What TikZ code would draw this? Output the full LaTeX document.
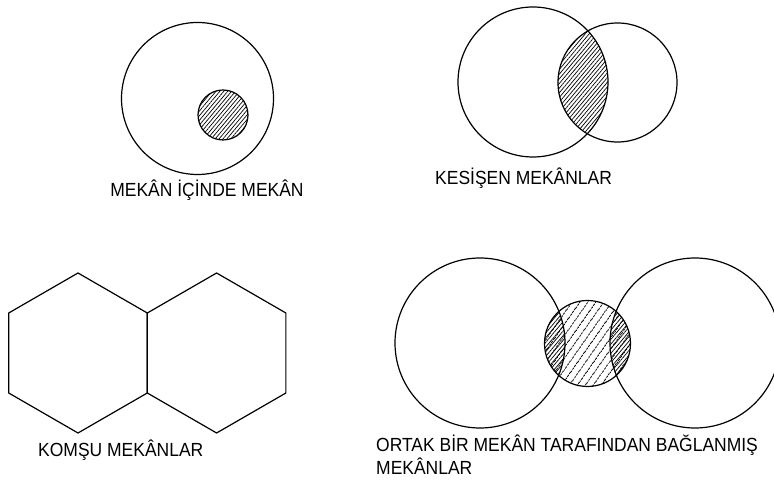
\documentclass[tikz,border=0pt]{standalone}
\usepackage{fontspec}
\setmainfont{Liberation Sans}[FakeStretch=0.92]
\usetikzlibrary{patterns.meta}

\tikzset{
  wall/.style={line width=1.2pt},
  dense/.style={pattern={Lines[angle=50,distance=3pt,line width=0.7pt]}},
  sparse/.style={pattern={Lines[angle=55,distance=6.5pt,line width=0.9pt]}},
  caption/.style={font=\fontsize{19}{23}\selectfont, inner sep=0pt, anchor=base west, align=left}
}

\begin{document}
\begin{tikzpicture}[x=1pt,y=1pt]
    \useasboundingbox (0,0) rectangle (774,484);

    % Space within a space
    \coordinate (outerA) at (197.5,385.5);
    \coordinate (innerA) at (223,369);
    \fill[dense] (innerA) circle (25pt);
    \draw[wall] (outerA) circle (76pt);
    \draw[wall] (innerA) circle (25pt);
    \node[caption, anchor=base] (capA) at (207,287) {MEKÂN İÇİNDE MEKÂN};

    % Intersecting spaces
    \coordinate (bigB) at (533,402);
    \coordinate (smallB) at (617.5,401.5);
    \begin{scope}
        \clip (bigB) circle (75pt);
        \fill[dense] (smallB) circle (59.5pt);
    \end{scope}
    \draw[wall] (bigB) circle (75pt);
    \draw[wall] (smallB) circle (59.5pt);
    \node[caption] (capB) at (435,299) {KESİŞEN MEKÂNLAR};

    % Adjacent spaces
    \coordinate (hexL) at (78,131);
    \coordinate (hexR) at (216.6,131);
    \foreach \c in {hexL,hexR}
        \draw[wall] (\c) ++(90:80pt) -- ++(210:80pt) -- ++(270:80pt)
            -- ++(330:80pt) -- ++(30:80pt) -- ++(90:80pt) -- cycle;
    \node[caption] (capC) at (38,27) {KOMŞU MEKÂNLAR};

    % Spaces linked by a common space
    \coordinate (leftD) at (480,141);
    \coordinate (rightD) at (695,141);
    \coordinate (midD) at (587.5,140.5);
    \fill[sparse] (midD) circle (43pt);
    \foreach \c in {leftD,rightD} {
        \begin{scope}
            \clip (\c) circle (85pt);
            \fill[dense] (midD) circle (43pt);
        \end{scope}
    }
    \draw[wall] (leftD) circle (85pt);
    \draw[wall] (rightD) circle (85pt);
    \draw[wall] (midD) circle (43pt);
    \node[caption] (capD) at (376,9) {ORTAK BİR MEKÂN TARAFINDAN BAĞLANMIŞ\\MEKÂNLAR};
\end{tikzpicture}
\end{document}
